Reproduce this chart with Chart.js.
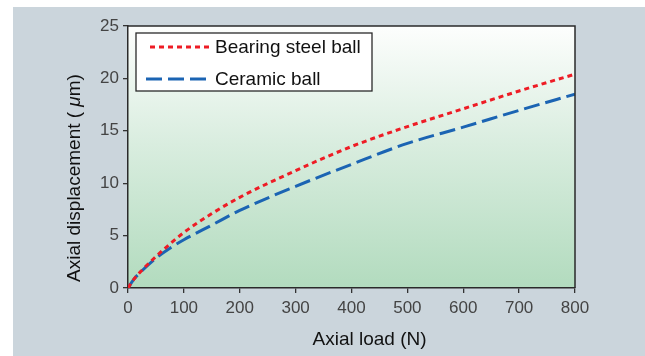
<!DOCTYPE html>
<html>
<head>
<meta charset="utf-8">
<script src="https://cdn.jsdelivr.net/npm/chart.js@4.4.1/dist/chart.umd.min.js"></script>
<style>
  html, body { margin: 0; padding: 0; background: #ffffff; }
  #wrap { position: relative; width: 645px; height: 356px; }
  canvas { display: block; }
</style>
</head>
<body>
<div id="wrap"><canvas id="c" width="645" height="356"></canvas></div>
<script>
// ---- data ----
const loads = [0, 10, 25, 50, 75, 100, 150, 200, 300, 400, 500, 600, 700, 800];
const steelBall = [0, 0.8, 1.7, 3.0, 4.2, 5.3, 7.1, 8.65, 11.2, 13.5, 15.4, 17.1, 18.8, 20.4];
const ceramicBall = [0, 0.8, 1.65, 2.85, 3.8, 4.6, 6.0, 7.4, 9.7, 11.8, 13.8, 15.35, 16.95, 18.5];
const seriesNames = ['Bearing steel ball', 'Ceramic ball'];
const xTicks = [0, 100, 200, 300, 400, 500, 600, 700, 800];
const yTicks = [0, 5, 10, 15, 20, 25];
const xTitle = 'Axial load (N)';
const yTitleParts = ['Axial displacement ( ', '\u03bc', 'm)'];

const FONT = '"Liberation Sans", Arial, Helvetica, sans-serif';
const toPoints = (xs, ys) => xs.map((x, i) => ({ x: x, y: ys[i] }));

const bgPlugin = {
  id: 'bg',
  beforeDraw(chart) {
    const ctx = chart.ctx;
    ctx.save();
    ctx.fillStyle = '#ffffff';
    ctx.fillRect(0, 0, chart.width, chart.height);
    ctx.fillStyle = '#cbd5dc';
    ctx.fillRect(13, 7, chart.width - 13, chart.height - 7);
    const a = chart.chartArea;
    const g = ctx.createLinearGradient(0, a.top, 0, a.bottom);
    g.addColorStop(0, '#fdfefd');
    g.addColorStop(0.45, '#d9eddf');
    g.addColorStop(1, '#b2dbbe');
    ctx.fillStyle = g;
    ctx.fillRect(a.left, a.top, a.right - a.left, a.bottom - a.top);
    ctx.restore();
  },
  afterDraw(chart) {
    const ctx = chart.ctx;
    const a = chart.chartArea;
    ctx.save();
    // frame top & right
    ctx.strokeStyle = '#2a2a2a';
    ctx.lineWidth = 1.5;
    ctx.beginPath();
    ctx.moveTo(a.left, a.top);
    ctx.lineTo(a.right, a.top);
    ctx.lineTo(a.right, a.bottom);
    ctx.stroke();

    // legend
    const bx = a.left + 8, by = a.top + 7, bw = 236, bh = 58;
    ctx.fillStyle = '#ffffff';
    ctx.fillRect(bx, by, bw, bh);
    ctx.strokeStyle = '#2a2a2a';
    ctx.lineWidth = 1.3;
    ctx.strokeRect(bx, by, bw, bh);
    const rows = [by + 14, by + 46];
    chart.data.datasets.forEach((ds, i) => {
      const y = rows[i];
      ctx.save();
      ctx.strokeStyle = ds.borderColor;
      ctx.lineWidth = ds.borderWidth;
      ctx.setLineDash(ds.borderDash || []);
      ctx.beginPath();
      ctx.moveTo(bx + 10 + (i === 0 ? 4 : 0), y);
      ctx.lineTo(bx + 73, y);
      ctx.stroke();
      ctx.restore();
      ctx.fillStyle = '#111111';
      ctx.font = '19px ' + FONT;
      ctx.textBaseline = 'middle';
      ctx.textAlign = 'left';
      ctx.fillText(ds.label, bx + 79, y + 1);
    });

    // axis titles
    ctx.fillStyle = '#111111';
    ctx.font = '19px ' + FONT;
    ctx.textBaseline = 'middle';
    ctx.textAlign = 'center';
    ctx.fillText(xTitle, (a.left + a.right) / 2 + 18, a.bottom + 52);

    ctx.save();
    ctx.translate(a.left - 53, (a.top + a.bottom) / 2 + 21);
    ctx.rotate(-Math.PI / 2);
    const fN = '19px ' + FONT, fI = 'italic 19px ' + FONT;
    const fonts = [fN, fI, fN];
    let total = 0;
    const widths = yTitleParts.map((t, i) => { ctx.font = fonts[i]; const w = ctx.measureText(t).width; total += w; return w; });
    let x = -total / 2;
    ctx.textAlign = 'left';
    yTitleParts.forEach((t, i) => { ctx.font = fonts[i]; ctx.fillText(t, x, 0); x += widths[i]; });
    ctx.restore();
    ctx.restore();
  }
};

new Chart(document.getElementById('c'), {
  type: 'line',
  data: {
    datasets: [
      {
        label: seriesNames[0],
        data: toPoints(loads, steelBall),
        borderColor: '#ee1c25',
        borderWidth: 3,
        borderDash: [5, 4],
        borderCapStyle: 'butt',
        pointRadius: 0,
        fill: false,
        cubicInterpolationMode: 'monotone'
      },
      {
        label: seriesNames[1],
        data: toPoints(loads, ceramicBall),
        borderColor: '#1b64b3',
        borderWidth: 3,
        borderDash: [16, 6],
        borderCapStyle: 'butt',
        pointRadius: 0,
        fill: false,
        cubicInterpolationMode: 'monotone'
      }
    ]
  },
  options: {
    responsive: false,
    animation: false,
    devicePixelRatio: 1,
    layout: { padding: { left: 0, top: 26, right: 70, bottom: 0 } },
    plugins: { legend: { display: false }, tooltip: { enabled: false } },
    scales: {
      x: {
        type: 'linear',
        min: xTicks[0],
        max: xTicks[xTicks.length - 1],
        afterBuildTicks(scale) { scale.ticks = xTicks.map(v => ({ value: v })); },
        afterFit(scale) { scale.height = 68; },
        grid: { display: true, drawOnChartArea: false, drawTicks: true, tickLength: 5, color: '#333333', lineWidth: 1.3 },
        border: { display: true, color: '#2a2a2a', width: 1.5 },
        ticks: { color: '#444444', font: { family: FONT, size: 17 }, padding: 5, maxRotation: 0 },
        title: { display: false }
      },
      y: {
        type: 'linear',
        min: yTicks[0],
        max: yTicks[yTicks.length - 1],
        afterBuildTicks(scale) { scale.ticks = yTicks.map(v => ({ value: v })); },
        afterFit(scale) { scale.width = 128; },
        grid: { display: true, drawOnChartArea: false, drawTicks: true, tickLength: 5, color: '#333333', lineWidth: 1.3 },
        border: { display: true, color: '#2a2a2a', width: 1.5 },
        ticks: { color: '#444444', font: { family: FONT, size: 17 }, padding: 4 },
        title: { display: false }
      }
    }
  },
  plugins: [bgPlugin]
});
</script>
</body>
</html>
